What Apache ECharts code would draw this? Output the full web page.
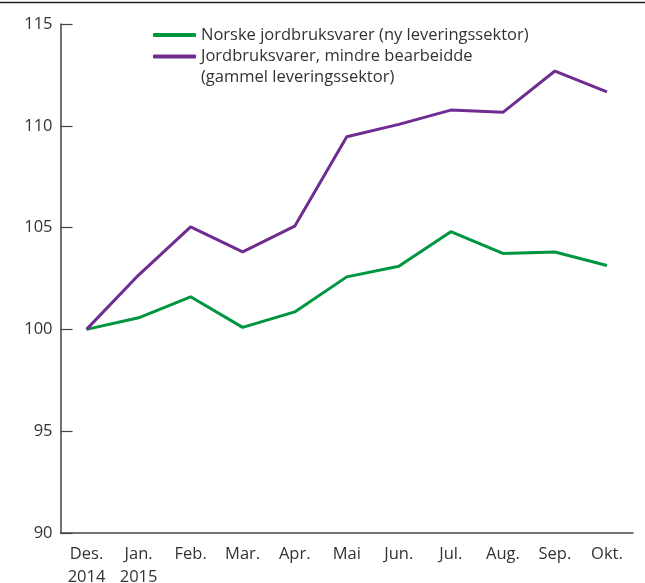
<!DOCTYPE html>
<html>
<head>
<meta charset="utf-8">
<script src="https://cdn.jsdelivr.net/npm/echarts@6/dist/echarts.min.js"></script>
<style>
html,body{margin:0;padding:0;background:#fff;}
#chart{width:645px;height:583px;}
</style>
</head>
<body>
<div id="chart"></div>
<script>
const categories = ['Des.\n2014', 'Jan.\n2015', 'Feb.', 'Mar.', 'Apr.', 'Mai', 'Jun.', 'Jul.', 'Aug.', 'Sep.', 'Okt.'];
const seriesNames = ['Norske jordbruksvarer (ny leveringssektor)', 'Jordbruksvarer, mindre bearbeidde\n(gammel leveringssektor)'];
const norske = [100.0, 100.57, 101.6, 100.1, 100.86, 102.58, 103.1, 104.8, 103.73, 103.8, 103.14];
const mindre = [100.0, 102.67, 105.04, 103.81, 105.07, 109.46, 110.07, 110.77, 110.66, 112.69, 111.67];
const yMin = 90, yMax = 115, yStep = 5;

const font = '"Open Sans", "Noto Sans", sans-serif';
const textColor = '#333';
const axisColor = '#444';
const green = '#00963f';
const purple = '#6f2c91';
const fs = 16.5;
const lh = 21;

const legendBase = {
  orient: 'vertical',
  left: 153,
  itemWidth: 43,
  itemHeight: 4,
  itemGap: 0,
  icon: 'roundRect',
  padding: 0,
  textStyle: {fontFamily: font, fontSize: fs, color: textColor, lineHeight: lh}
};

const chart = echarts.init(document.getElementById('chart'), null, {renderer: 'canvas'});
chart.setOption({
  animation: false,
  backgroundColor: '#fff',
  grid: {left: 60.5, right: 12, top: 24, bottom: 50, containLabel: false, outerBoundsMode: 'none'},
  graphic: [{
    type: 'line',
    shape: {x1: 0, y1: 2.5, x2: 645, y2: 2.5},
    style: {stroke: '#222', lineWidth: 1.5}
  }],
  legend: [
    Object.assign({}, legendBase, {
      top: 35 - lh / 2,
      data: [{name: seriesNames[0], itemStyle: {color: green}}]
    }),
    Object.assign({}, legendBase, {
      top: 56.5 - lh * 1.5,
      formatter: function (name) { return '\u00a0\n' + name; },
      data: [{name: seriesNames[1], itemStyle: {color: purple}}]
    })
  ],
  xAxis: {
    type: 'category',
    data: categories,
    boundaryGap: true,
    axisLine: {lineStyle: {color: axisColor, width: 1.5}},
    axisTick: {inside: true, alignWithLabel: true, length: 11, lineStyle: {color: axisColor, width: 1.2}},
    axisLabel: {fontFamily: font, fontSize: fs, color: textColor, margin: 10, lineHeight: 23, interval: 0}
  },
  yAxis: {
    type: 'value',
    min: yMin, max: yMax, interval: yStep,
    splitLine: {show: false},
    axisLine: {show: true, lineStyle: {color: axisColor, width: 1.5}},
    axisTick: {show: true, inside: true, length: 12, lineStyle: {color: axisColor, width: 1.2}},
    axisLabel: {fontFamily: font, fontSize: fs, color: textColor, margin: 8}
  },
  series: [
    {name: seriesNames[0], type: 'line', data: norske, symbol: 'none',
     lineStyle: {color: green, width: 3}, itemStyle: {color: green}},
    {name: seriesNames[1], type: 'line', data: mindre, symbol: 'none',
     lineStyle: {color: purple, width: 3}, itemStyle: {color: purple}}
  ]
});
</script>
</body>
</html>
